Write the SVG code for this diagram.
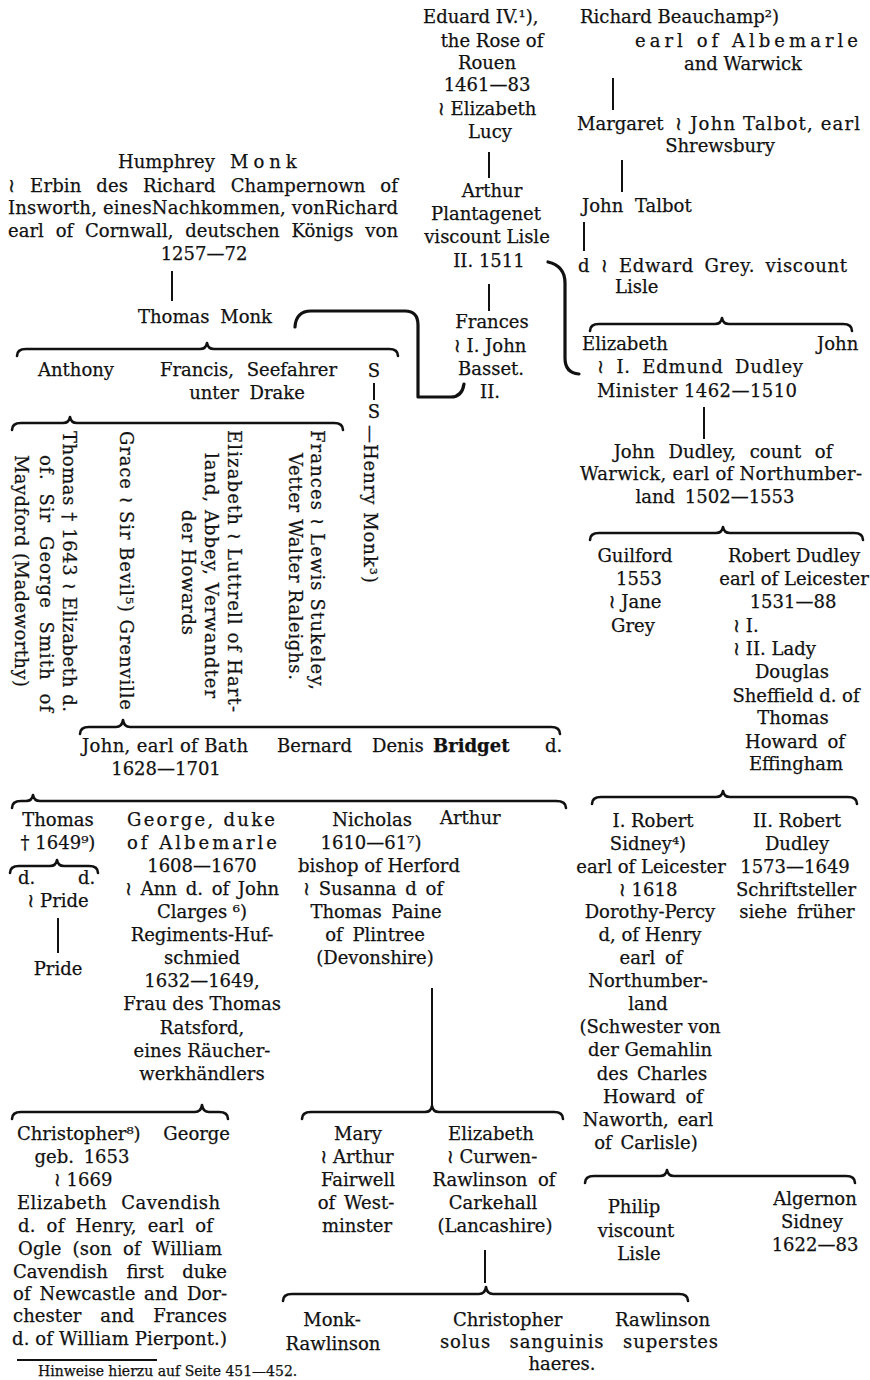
<svg xmlns="http://www.w3.org/2000/svg" width="870" height="1380" viewBox="0 0 870 1380">
<style>
.t{font-family:"DejaVu Serif","Liberation Serif",serif;font-size:18px;fill:#111;stroke:#111;stroke-width:0.25}
.m{text-anchor:middle}
.e{text-anchor:end}
.b{font-weight:bold}
.fn{font-size:14px}
.w{font-family:"DejaVu Sans",sans-serif;font-size:19px}
.br{fill:none;stroke:#111;stroke-width:2.6;stroke-linecap:round;stroke-linejoin:round}
.ln{fill:none;stroke:#111;stroke-width:2}
.cx{fill:none;stroke:#111;stroke-width:3.2;stroke-linecap:round;stroke-linejoin:round}
</style>
<rect width="870" height="1380" fill="#ffffff"/>
<g id="connectors">
<path class="br" d="M17,356 Q17,349 26,349 L200,349 Q206,349 207,343 Q208,349 214,349 L389,349 Q398,349 398,356"/>
<path class="br" d="M12,430 Q12,423 21,423 L63,423 Q69,423 70,417 Q71,423 77,423 L334,423 Q343,423 343,430"/>
<path class="br" d="M80,734 Q80,727 89,727 L116,727 Q122,727 123,720 Q124,727 130,727 L551,727 Q560,727 560,734"/>
<path class="br" d="M12,808 Q12,801 21,801 L26,801 Q32,801 33,795 Q34,801 40,801 L556,801 Q566,801 566,808"/>
<path class="br" d="M10,873 Q10,866 19,866 L50,866 Q56,866 57,860 Q58,866 64,866 L89,866 Q98,866 98,873"/>
<path class="br" d="M302,1119 Q302,1112 311,1112 L425,1112 Q431,1112 432,1106 Q433,1112 439,1112 L554,1112 Q563,1112 563,1119"/>
<path class="br" d="M12,1119 Q12,1112 21,1112 L195,1112 Q201,1112 202,1105 Q203,1112 209,1112 L219,1112 Q228,1112 228,1119"/>
<path class="br" d="M283,1301 Q283,1294 292,1294 L479,1294 Q485,1294 486,1287 Q487,1294 493,1294 L679,1294 Q688,1294 688,1301"/>
<path class="br" d="M590,331 Q590,324 599,324 L715,324 Q721,324 722,318 Q723,324 729,324 L843,324 Q852,324 852,331"/>
<path class="br" d="M590,540 Q590,533 599,533 L716,533 Q722,533 723,527 Q724,533 730,533 L854,533 Q863,533 863,540"/>
<path class="br" d="M592,804 Q592,797 601,797 L716,797 Q722,797 723,791 Q724,797 730,797 L848,797 Q857,797 857,804"/>
<path class="br" d="M585,1183 Q585,1176 594,1176 L660,1176 Q666,1176 667,1170 Q668,1176 674,1176 L846,1176 Q855,1176 855,1183"/>
<path class="cx" d="M295,327 Q296,311 311,311 L405,311 Q418,311 418,325 L418,397 L451,397 Q462,397 464,384"/>
<path class="cx" d="M548,262 Q565,266 565,283 L565,358 Q565,373 579,374"/>
<path class="ln" d="M172,271 V301 M489,152 V178 M489,284 V311 M613,78 V110 M622,160 V192 M584,222 V251 M704,407 V439 M58,918 V953 M432,988 V1106 M485,1250 V1283"/>
<path class="ln" stroke-width="1.6" d="M374,383 V400"/>
</g>
<g id="eduard">
<text class="t" x="423" y="23">Eduard IV.¹),</text>
<text class="t m" x="492" y="47">the Rose of</text>
<text class="t m" x="487" y="69">Rouen</text>
<text class="t m" x="487" y="91">1461—83</text>
<text class="t m" x="487" y="115"><tspan class="w">≀</tspan> Elizabeth</text>
<text class="t m" x="490" y="138">Lucy</text>
</g>
<g id="arthur">
<text class="t m" x="492" y="197">Arthur</text>
<text class="t m" x="486" y="220">Plantagenet</text>
<text class="t m" x="487" y="243">viscount Lisle</text>
<text class="t m" x="489" y="267">II. 1511</text>
</g>
<g id="frances-basset">
<text class="t m" x="492" y="328">Frances</text>
<text class="t m" x="490" y="352"><tspan class="w">≀</tspan> I. John</text>
<text class="t m" x="491" y="375">Basset.</text>
<text class="t m" x="490" y="398">II.</text>
</g>
<g id="beauchamp">
<text class="t" x="580" y="23">Richard Beauchamp²)</text>
<text class="t" x="635" y="47" textLength="223">earl of Albemarle</text>
<text class="t m" x="743" y="70">and Warwick</text>
</g>
<g id="margaret">
<text class="t" x="577" y="130">Margaret</text>
<text class="t" x="675" y="130" textLength="185"><tspan class="w">≀</tspan> John Talbot, earl</text>
<text class="t m" x="720" y="152">Shrewsbury</text>
</g>
<g id="john-talbot">
<text class="t" x="582" y="212" word-spacing="6">John Talbot</text>
</g>
<g id="d-grey">
<text class="t" x="578" y="272" word-spacing="4" textLength="269">d <tspan class="w">≀</tspan> Edward Grey. viscount</text>
<text class="t" x="615" y="293">Lisle</text>
</g>
<g id="elizabeth-dudley">
<text class="t" x="582" y="350">Elizabeth</text>
<text class="t" x="817" y="350">John</text>
<text class="t" x="597" y="373" word-spacing="5" textLength="206"><tspan class="w">≀</tspan> I. Edmund Dudley</text>
<text class="t" x="597" y="397" textLength="200">Minister 1462—1510</text>
</g>
<g id="john-dudley">
<text class="t m" x="723" y="458" word-spacing="8">John Dudley, count of</text>
<text class="t" x="580" y="480" textLength="282">Warwick, earl of Northumber-</text>
<text class="t m" x="715" y="503" word-spacing="4">land 1502—1553</text>
</g>
<g id="guilford">
<text class="t m" x="635" y="562">Guilford</text>
<text class="t m" x="639" y="585">1553</text>
<text class="t m" x="635" y="608"><tspan class="w">≀</tspan> Jane</text>
<text class="t m" x="633" y="632">Grey</text>
</g>
<g id="robert-dudley">
<text class="t m" x="794" y="562">Robert Dudley</text>
<text class="t m" x="794" y="585">earl of Leicester</text>
<text class="t m" x="793" y="608">1531—88</text>
<text class="t" x="733" y="632"><tspan class="w">≀</tspan> I.</text>
<text class="t" x="733" y="655"><tspan class="w">≀</tspan> II. Lady</text>
<text class="t m" x="792" y="678">Douglas</text>
<text class="t m" x="796" y="702">Sheffield d. of</text>
<text class="t m" x="793" y="724">Thomas</text>
<text class="t m" x="795" y="748" word-spacing="4">Howard of</text>
<text class="t m" x="796" y="770">Effingham</text>
</g>
<g id="robert-sidney">
<text class="t m" x="653" y="827">I. Robert</text>
<text class="t m" x="648" y="850">Sidney⁴)</text>
<text class="t m" x="651" y="873">earl of Leicester</text>
<text class="t m" x="648" y="896"><tspan class="w">≀</tspan> 1618</text>
<text class="t m" x="650" y="918">Dorothy-Percy</text>
<text class="t m" x="650" y="941">d, of Henry</text>
<text class="t m" x="651" y="964" word-spacing="4">earl of</text>
<text class="t m" x="648" y="987">Northumber-</text>
<text class="t m" x="648" y="1010">land</text>
<text class="t m" x="650" y="1033">(Schwester von</text>
<text class="t m" x="650" y="1056">der Gemahlin</text>
<text class="t m" x="652" y="1080" word-spacing="3">des Charles</text>
<text class="t m" x="653" y="1103" word-spacing="4">Howard of</text>
<text class="t m" x="648" y="1126" word-spacing="3">Naworth, earl</text>
<text class="t m" x="646" y="1149" word-spacing="3">of Carlisle)</text>
</g>
<g id="robert-dudley-2">
<text class="t m" x="797" y="827">II. Robert</text>
<text class="t m" x="797" y="850">Dudley</text>
<text class="t m" x="795" y="873">1573—1649</text>
<text class="t m" x="796" y="896">Schriftsteller</text>
<text class="t m" x="797" y="918" word-spacing="4">siehe früher</text>
</g>
<g id="philip">
<text class="t m" x="634" y="1213">Philip</text>
<text class="t m" x="636" y="1237">viscount</text>
<text class="t m" x="639" y="1260">Lisle</text>
</g>
<g id="algernon">
<text class="t m" x="815" y="1205">Algernon</text>
<text class="t m" x="812" y="1228">Sidney</text>
<text class="t m" x="815" y="1251">1622—83</text>
</g>
<g id="humphrey">
<text class="t" x="118" y="168">Humphrey</text>
<text class="t" x="230" y="168" letter-spacing="5">Monk</text>
<text class="t" x="8" y="192" word-spacing="9" textLength="390"><tspan class="w">≀</tspan> Erbin des Richard Champernown of</text>
<text class="t" x="8" y="214" textLength="390">Insworth, einesNachkommen, vonRichard</text>
<text class="t" x="8" y="237" word-spacing="6" textLength="390">earl of Cornwall, deutschen Königs von</text>
<text class="t m" x="204" y="260">1257—72</text>
</g>
<g id="thomas-monk">
<text class="t m" x="205" y="323" word-spacing="5">Thomas Monk</text>
</g>
<g id="anthony">
<text class="t" x="38" y="376">Anthony</text>
</g>
<g id="francis">
<text class="t" x="160" y="376" word-spacing="7" textLength="177">Francis, Seefahrer</text>
<text class="t m" x="247" y="399" word-spacing="5">unter Drake</text>
</g>
<g id="s-henry">
<text class="t m" x="374" y="377">S</text>
<text class="t m" x="374" y="418">S</text>
<text class="t" transform="translate(364,425) rotate(90)" textLength="158">—Henry Monk³)</text>
</g>
<g id="frances-stukeley">
<text class="t" transform="translate(311,430) rotate(90)" textLength="260">Frances <tspan class="w">≀</tspan> Lewis Stukeley,</text>
<text class="t" transform="translate(289,453) rotate(90)" textLength="227">Vetter Walter Raleighs.</text>
</g>
<g id="elizabeth-luttrell">
<text class="t" transform="translate(228,430) rotate(90)" textLength="282">Elizabeth <tspan class="w">≀</tspan> Luttrell of Hart-</text>
<text class="t" transform="translate(205,453) rotate(90)" textLength="245">land, Abbey, Verwandter</text>
<text class="t" transform="translate(182,510) rotate(90)" textLength="125">der Howards</text>
</g>
<g id="grace">
<text class="t" transform="translate(120,431) rotate(90)" textLength="279">Grace <tspan class="w">≀</tspan> Sir Bevil⁵) Grenville</text>
</g>
<g id="thomas-1643">
<text class="t" transform="translate(63,431) rotate(90)" textLength="281">Thomas † 1643 <tspan class="w">≀</tspan> Elizabeth d.</text>
<text class="t" transform="translate(40,455) rotate(90)" word-spacing="6" textLength="257">of. Sir George Smith of</text>
<text class="t" transform="translate(15,455) rotate(90)" textLength="232">Maydford (Madeworthy)</text>
</g>
<g id="john-bath">
<text class="t" x="82" y="752" textLength="166">John, earl of Bath</text>
<text class="t m" x="166" y="775">1628—1701</text>
</g>
<g id="bernard"><text class="t" x="277" y="752">Bernard</text></g>
<g id="denis"><text class="t" x="372" y="752">Denis</text></g>
<g id="bridget"><text class="t b" x="433" y="752">Bridget</text><text class="t" x="545" y="752">d.</text></g>
<g id="thomas-1649">
<text class="t m" x="58" y="826">Thomas</text>
<text class="t m" x="58" y="849">† 1649⁹)</text>
</g>
<g id="d-pride">
<text class="t" x="18" y="884">d.</text>
<text class="t" x="78" y="884">d.</text>
<text class="t m" x="58" y="907"><tspan class="w">≀</tspan> Pride</text>
</g>
<g id="pride"><text class="t m" x="58" y="975">Pride</text></g>
<g id="george-albemarle">
<text class="t" x="127" y="826" textLength="148">George, duke</text>
<text class="t" x="127" y="849" textLength="150">of Albemarle</text>
<text class="t m" x="202" y="872">1608—1670</text>
<text class="t m" x="202" y="895" word-spacing="3"><tspan class="w">≀</tspan> Ann d. of John</text>
<text class="t m" x="202" y="918">Clarges ⁶)</text>
<text class="t m" x="202" y="941">Regiments-Huf-</text>
<text class="t m" x="202" y="964">schmied</text>
<text class="t m" x="202" y="987">1632—1649,</text>
<text class="t m" x="202" y="1010">Frau des Thomas</text>
<text class="t m" x="202" y="1034">Ratsford,</text>
<text class="t m" x="202" y="1057">eines Räucher-</text>
<text class="t m" x="202" y="1080">werkhändlers</text>
</g>
<g id="nicholas">
<text class="t m" x="372" y="826">Nicholas</text>
<text class="t m" x="371" y="849">1610—61⁷)</text>
<text class="t m" x="379" y="872">bishop of Herford</text>
<text class="t m" x="373" y="895" word-spacing="3"><tspan class="w">≀</tspan> Susanna d of</text>
<text class="t m" x="376" y="918" word-spacing="4">Thomas Paine</text>
<text class="t m" x="375" y="941" word-spacing="4">of Plintree</text>
<text class="t m" x="375" y="964">(Devonshire)</text>
</g>
<g id="arthur-2"><text class="t" x="440" y="824">Arthur</text></g>
<g id="mary">
<text class="t m" x="358" y="1140">Mary</text>
<text class="t m" x="357" y="1163"><tspan class="w">≀</tspan> Arthur</text>
<text class="t m" x="358" y="1186">Fairwell</text>
<text class="t m" x="356" y="1209" word-spacing="3">of West-</text>
<text class="t m" x="357" y="1232">minster</text>
</g>
<g id="elizabeth-curwen">
<text class="t m" x="491" y="1140">Elizabeth</text>
<text class="t m" x="492" y="1163"><tspan class="w">≀</tspan> Curwen-</text>
<text class="t m" x="494" y="1186" word-spacing="5">Rawlinson of</text>
<text class="t m" x="493" y="1209">Carkehall</text>
<text class="t m" x="495" y="1232">(Lancashire)</text>
</g>
<g id="monk-rawlinson">
<text class="t m" x="332" y="1326">Monk-</text>
<text class="t m" x="333" y="1350">Rawlinson</text>
</g>
<g id="christopher-rawlinson">
<text class="t" x="453" y="1326">Christopher</text>
<text class="t e" x="710" y="1326">Rawlinson</text>
<text class="t" x="440" y="1348" word-spacing="12" textLength="278">solus sanguinis superstes</text>
<text class="t m" x="562" y="1370">haeres.</text>
</g>
<g id="christopher">
<text class="t" x="17" y="1140">Christopher⁸)</text>
<text class="t e" x="230" y="1140">George</text>
<text class="t m" x="82" y="1163" word-spacing="4">geb. 1653</text>
<text class="t m" x="83" y="1186"><tspan class="w">≀</tspan> 1669</text>
<text class="t" x="17" y="1209" word-spacing="8" textLength="203">Elizabeth Cavendish</text>
<text class="t" x="18" y="1232" word-spacing="5" textLength="195">d. of Henry, earl of</text>
<text class="t" x="18" y="1255" word-spacing="5" textLength="204">Ogle (son of William</text>
<text class="t" x="13" y="1278" word-spacing="13" textLength="214">Cavendish first duke</text>
<text class="t" x="13" y="1300" word-spacing="3" textLength="214">of Newcastle and Dor-</text>
<text class="t" x="13" y="1322" word-spacing="13" textLength="214">chester and Frances</text>
<text class="t" x="12" y="1345" textLength="215">d. of William Pierpont.)</text>
</g>
<g id="footnote">
<path class="ln" stroke-width="1.5" d="M17,1360 H157"/>
<text class="t fn" x="38" y="1376">Hinweise hierzu auf Seite 451—452.</text>
</g>
</svg>
